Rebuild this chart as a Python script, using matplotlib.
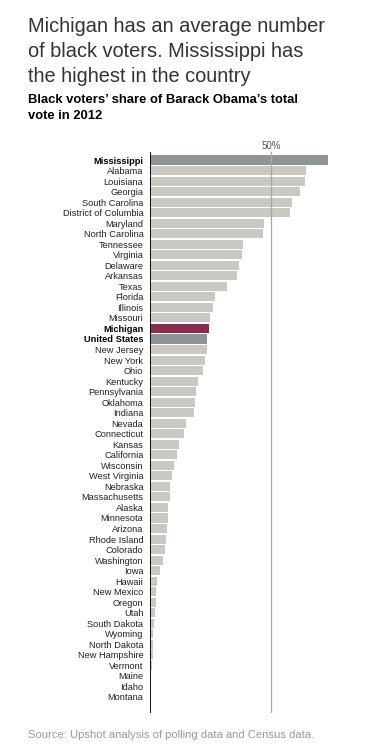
import matplotlib
matplotlib.use("Agg")
from matplotlib import pyplot as plt

states = ['Mississippi', 'Alabama', 'Louisiana', 'Georgia', 'South Carolina',
          'District of Columbia', 'Maryland', 'North Carolina', 'Tennessee',
          'Virginia', 'Delaware', 'Arkansas', 'Texas', 'Florida', 'Illinois',
          'Missouri', 'Michigan', 'United States', 'New Jersey', 'New York',
          'Ohio', 'Kentucky', 'Pennsylvania', 'Oklahoma', 'Indiana', 'Nevada',
          'Connecticut', 'Kansas', 'California', 'Wisconsin', 'West Virginia',
          'Nebraska', 'Massachusetts', 'Alaska', 'Minnesota', 'Arizona',
          'Rhode Island', 'Colorado', 'Washington', 'Iowa', 'Hawaii',
          'New Mexico', 'Oregon', 'Utah', 'South Dakota', 'Wyoming',
          'North Dakota', 'New Hampshire', 'Vermont', 'Maine', 'Idaho', 'Montana']
share = [73.3, 64.3, 63.9, 61.8, 58.5, 57.7, 47.0, 46.6, 38.4, 37.9, 36.7,
         35.9, 31.8, 26.9, 26.0, 24.8, 24.4, 23.6, 23.6, 22.7, 21.9, 19.9,
         19.0, 18.6, 18.2, 14.9, 14.1, 12.0, 11.2, 10.0, 9.2, 8.3, 8.3, 7.5,
         7.5, 7.1, 6.7, 6.3, 5.5, 4.2, 3.0, 2.6, 2.6, 2.2, 1.8, 1.4, 1.4, 1.4,
         0.9, 0.5, 0.5, 0.0]
bold_rows = ['Mississippi', 'Michigan', 'United States']

title_lines = ['Michigan has an average number',
               'of black voters. Mississippi has',
               'the highest in the country']
subtitle_lines = ['Black voters\u2019 share of Barack Obama\u2019s total',
                  'vote in 2012']

W, H = 368, 756
fig = plt.figure(figsize=(W / 100, H / 100), dpi=100)
plt.rcParams['font.family'] = ['Liberation Sans', 'DejaVu Sans']

# axes placed in pixel terms: zero line at x=150, 50% at x=271
x0, px_per_pct = 149.7, 2.432
xmax = 80
ax_top, ax_bot = 152, 713
ax = fig.add_axes([x0 / W, (H - ax_bot) / H, xmax * px_per_pct / W, (ax_bot - ax_top) / H])

colors = []
for s in states:
    if s == 'Michigan':
        colors.append('#8a2b50')
    elif s in ('Mississippi', 'United States'):
        colors.append('#8f9595')
    else:
        colors.append('#c9c8c3')

y = list(range(len(states)))
ax.barh(y, share, height=0.86, color=colors, zorder=1)
ax.axvline(50, color='#a8a8a8', lw=0.9, zorder=2)
ax.axvline(0, color='black', lw=1.3, zorder=3)
ax.set_xlim(0, xmax)
ax.set_ylim(52.52, -0.76)
ax.set_yticks(y)
ax.set_yticklabels(states, fontsize=6.7, color='#222222')
for lab in ax.get_yticklabels():
    if lab.get_text() in bold_rows:
        lab.set_fontweight('bold')
        lab.set_color('black')
ax.tick_params(axis='y', length=0, pad=4.5)
ax.set_xticks([])
for sp in ax.spines.values():
    sp.set_visible(False)

fig.text(271 / W, 1 - 146 / H, '50%', ha='center', va='center', fontsize=7, color='#555555')

for i, line in enumerate(title_lines):
    fig.text(28 / W, 1 - (32 + 25 * i) / H, line, ha='left', va='baseline',
             fontsize=14.4, color='#333333')
for i, line in enumerate(subtitle_lines):
    fig.text(28 / W, 1 - (103 + 16 * i) / H, line, ha='left', va='baseline',
             fontsize=9.4, fontweight='bold', color='black')
fig.text(28 / W, 1 - 735 / H, 'Source: Upshot analysis of polling data and Census data.',
         ha='left', va='center', fontsize=8.1, color='#999999')

fig.savefig('out.png', dpi=100)
